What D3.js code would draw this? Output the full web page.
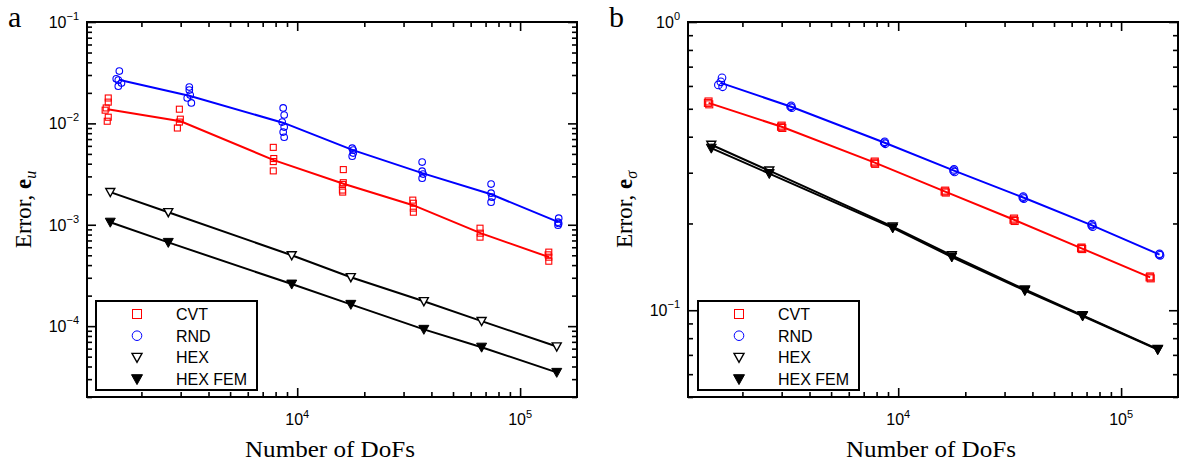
<!DOCTYPE html>
<html>
<head>
<meta charset="utf-8">
<script src="https://cdn.jsdelivr.net/npm/d3@7"></script>
<style>
  html, body { margin: 0; padding: 0; background: #fff; }
  svg { display: block; }
</style>
</head>
<body>
<svg id="chart" width="1183" height="465"></svg>
<script>
// ---------------- DATA ----------------
const seriesNames = ["CVT", "RND", "HEX", "HEX FEM"];

// mean DoFs per refinement level
const dofsCVT = [1410, 3000, 7850, 16250, 33100, 66500, 135000];
const dofsRND = [1600, 3310, 8700, 17800, 36400, 74100, 148800];
const dofsHEX = [1450, 2640, 9450, 17400, 37000, 67200, 146000];

// panel a: displacement error e_u (mean lines)
const cvtU = [0.0138, 0.0105, 0.00434, 0.00252, 0.00156, 0.000826, 0.000479];
const rndU = [0.0268, 0.0186, 0.0101, 0.00545, 0.00323, 0.0020, 0.00106];
const hexU = [0.0021, 0.00133, 0.00050, 0.000304, 0.000176, 0.000112, 0.000063];
const hexFemU = [0.00106, 0.00067, 0.00026, 0.000164, 0.000093, 0.000062, 0.000035];

// panel a: individual samples [DoFs, error]
const cvtUSamples = [
  [1420, 0.0178], [1420, 0.0162], [1390, 0.0142], [1375, 0.0135], [1420, 0.0115], [1405, 0.0105],
  [2960, 0.0138], [2990, 0.0110], [2960, 0.0103], [2900, 0.0090],
  [7810, 0.0058], [7850, 0.0045], [7810, 0.0042], [7810, 0.0034],
  [16100, 0.0035], [16100, 0.0026], [15950, 0.0025], [15950, 0.0022], [16000, 0.0021],
  [33000, 0.00175], [33200, 0.00163], [33200, 0.00146], [33200, 0.00133],
  [66100, 0.000925], [66300, 0.000826], [66100, 0.000755],
  [134500, 0.000537], [133600, 0.000505], [134500, 0.000479], [134500, 0.000437]
];
const rndUSamples = [
  [1592, 0.0328], [1542, 0.0275], [1575, 0.0268], [1628, 0.0250], [1575, 0.0233],
  [3280, 0.0228], [3280, 0.0213], [3311, 0.0190], [3210, 0.0178], [3350, 0.0159],
  [8650, 0.0142], [8740, 0.0121], [8560, 0.0103], [8740, 0.0092], [8650, 0.0082], [8740, 0.0073],
  [17650, 0.0057], [17830, 0.00545], [17830, 0.0051], [17650, 0.00475],
  [36350, 0.00415], [36350, 0.00338], [36700, 0.00316], [36350, 0.00288],
  [74100, 0.00252], [74100, 0.00205], [74800, 0.00187], [74100, 0.00167],
  [149000, 0.00116], [148000, 0.00106], [149000, 0.00103], [148000, 0.00099]
];

// panel b: stress error e_sigma (mean lines)
const cvtS = [0.524, 0.433, 0.325, 0.258, 0.206, 0.164, 0.130];
const rndS = [0.615, 0.508, 0.381, 0.305, 0.246, 0.197, 0.156];
const hexS = [0.375, 0.305, 0.195, 0.155, 0.118, 0.096, 0.0733];
const hexFemS = [0.365, 0.298, 0.193, 0.153, 0.117, 0.0955, 0.0730];

// panel b: individual samples [DoFs, error]
const cvtSSamples = [
  [1410, 0.530], [1400, 0.524], [1420, 0.518],
  [3000, 0.437], [2980, 0.433], [3020, 0.429],
  [7850, 0.328], [7820, 0.325], [7880, 0.322],
  [16250, 0.260], [16150, 0.258], [16350, 0.256],
  [33100, 0.208], [32900, 0.206], [33300, 0.204],
  [66500, 0.165], [66100, 0.164], [66900, 0.163],
  [135000, 0.131], [134200, 0.130], [135800, 0.129]
];
const rndSSamples = [
  [1620, 0.640], [1600, 0.620], [1560, 0.605], [1630, 0.596],
  [3310, 0.512], [3290, 0.508], [3330, 0.504],
  [8700, 0.384], [8650, 0.381], [8750, 0.378],
  [17800, 0.308], [17700, 0.305], [17900, 0.302],
  [36400, 0.248], [36200, 0.246], [36600, 0.244],
  [74100, 0.199], [73700, 0.197], [74500, 0.195],
  [148800, 0.157], [148000, 0.156], [149600, 0.155]
];

// axis ticks
const xDomain = [1140, 180000];
const xMajor = [1e4, 1e5];
const xMajorExp = ["4", "5"];
const yDomainA = [2e-5, 0.1];
const yMajorA = [1e-4, 1e-3, 1e-2, 1e-1];
const yMajorExpA = ["\u22124", "\u22123", "\u22122", "\u22121"];
const yDomainB = [0.05, 1];
const yMajorB = [0.1, 1];
const yMajorExpB = ["\u22121", "0"];

// ---------------- DRAW ----------------
const svg = d3.select("#chart");
const RED = "#ff0000", BLUE = "#0000ff", BLACK = "#000000";
const sansFont = "'Liberation Sans', Arial, Helvetica, sans-serif";
const serifFont = "'Liberation Serif', 'Times New Roman', serif";

function minorTicks(domain) {
  const out = [];
  const lo = Math.floor(Math.log10(domain[0])), hi = Math.ceil(Math.log10(domain[1]));
  for (let e = lo; e <= hi; e++) {
    for (let m = 2; m <= 9; m++) {
      const v = m * Math.pow(10, e);
      if (v >= domain[0] * 0.999 && v <= domain[1] * 1.001) out.push(v);
    }
  }
  return out;
}

function drawPanel(o) {
  const g = svg.append("g");
  const x = d3.scaleLog().domain(xDomain).range([o.left, o.right]);
  const y = d3.scaleLog().domain(o.yDomain).range([o.bottom, o.top]);

  // axes ticks (inward on all four sides)
  const xMinor = minorTicks(xDomain), yMinor = minorTicks(o.yDomain);
  const mk = (axisFn, scale, vals, size) =>
    axisFn(scale).tickValues(vals).tickSizeInner(size).tickSizeOuter(0).tickFormat("");
  const addAxis = (axis, tx, ty) => {
    const a = g.append("g").attr("transform", `translate(${tx},${ty})`).call(axis);
    a.select(".domain").remove();
    a.selectAll("line").attr("stroke", BLACK).attr("stroke-width", 1.6);
  };
  addAxis(mk(d3.axisBottom, x, xMajor, -9), 0, o.bottom);
  addAxis(mk(d3.axisBottom, x, xMinor, -5), 0, o.bottom);
  addAxis(mk(d3.axisTop, x, xMajor, -9), 0, o.top);
  addAxis(mk(d3.axisTop, x, xMinor, -5), 0, o.top);
  addAxis(mk(d3.axisLeft, y, o.yMajor, -9), o.left, 0);
  addAxis(mk(d3.axisLeft, y, yMinor, -5), o.left, 0);
  addAxis(mk(d3.axisRight, y, o.yMajor, -9), o.right, 0);
  addAxis(mk(d3.axisRight, y, yMinor, -5), o.right, 0);

  // frame
  g.append("rect").attr("x", o.left).attr("y", o.top)
    .attr("width", o.right - o.left).attr("height", o.bottom - o.top)
    .attr("fill", "none").attr("stroke", BLACK).attr("stroke-width", 2);

  // tick labels
  xMajor.forEach((v, i) => {
    const t = g.append("text").attr("x", x(v)).attr("y", o.bottom + 28)
      .attr("text-anchor", "middle").attr("font-family", sansFont).attr("font-size", 16);
    t.append("tspan").text("10");
    t.append("tspan").attr("dy", -7).attr("font-size", 11).text(xMajorExp[i]);
  });
  o.yMajor.forEach((v, i) => {
    const t = g.append("text").attr("x", o.left - 8).attr("y", y(v) + 6)
      .attr("text-anchor", "end").attr("font-family", sansFont).attr("font-size", 16);
    t.append("tspan").text("10");
    t.append("tspan").attr("dy", -8).attr("font-size", 11).text(o.yMajorExp[i]);
  });

  // axis titles
  g.append("text").attr("x", (o.left + o.right) / 2 - 2).attr("y", o.bottom + 60)
    .attr("text-anchor", "middle").attr("font-family", serifFont).attr("font-size", 23.5)
    .attr("textLength", 170).attr("lengthAdjust", "spacingAndGlyphs")
    .text("Number of DoFs");
  const yt = g.append("text")
    .attr("transform", `translate(${o.left - 56},${(o.top + o.bottom) / 2})rotate(-90)`)
    .attr("text-anchor", "middle").attr("font-family", serifFont).attr("font-size", 23);
  yt.append("tspan").text("Error, ");
  yt.append("tspan").attr("font-weight", "bold").text("e");
  yt.append("tspan").attr("font-style", "italic").attr("font-size", 16).attr("dy", 5).text(o.sub);

  // panel letter
  g.append("text").attr("x", o.left - 79).attr("y", 27)
    .attr("font-family", serifFont).attr("font-size", 30).text(o.letter);

  const line = d3.line().x(d => x(d[0])).y(d => y(d[1]));
  const zip = (xs, ys) => xs.map((v, i) => [v, ys[i]]);
  const clip = "clip-" + o.letter;
  svg.append("clipPath").attr("id", clip).append("rect")
    .attr("x", o.left).attr("y", o.top).attr("width", o.right - o.left).attr("height", o.bottom - o.top);
  const pg = g.append("g").attr("clip-path", `url(#${clip})`);

  // lines
  const lines = [
    [zip(dofsHEX, o.hex), BLACK],
    [zip(dofsHEX, o.hexFem), BLACK],
    [zip(dofsCVT, o.cvt), RED],
    [zip(dofsRND, o.rnd), BLUE]
  ];
  lines.forEach(([d, c]) => {
    pg.append("path").datum(d).attr("d", line).attr("fill", "none")
      .attr("stroke", c).attr("stroke-width", 2);
  });

  const ms = o.markerSize;
  // samples
  pg.selectAll(null).data(o.cvtSamples).enter().append("rect")
    .attr("x", d => x(d[0]) - ms / 2).attr("y", d => y(d[1]) - ms / 2)
    .attr("width", ms).attr("height", ms)
    .attr("fill", "none").attr("stroke", RED).attr("stroke-width", 1.1);
  pg.selectAll(null).data(o.rndSamples).enter().append("circle")
    .attr("cx", d => x(d[0])).attr("cy", d => y(d[1])).attr("r", ms / 2 + 0.3)
    .attr("fill", "none").attr("stroke", BLUE).attr("stroke-width", 1.1);

  const tri = (cx, cy, s) => `M${cx - s / 2},${cy - s * 0.4}L${cx + s / 2},${cy - s * 0.4}L${cx},${cy + s * 0.5}Z`;
  pg.selectAll(null).data(zip(dofsHEX, o.hexFem)).enter().append("path")
    .attr("d", d => tri(x(d[0]), y(d[1]), 10)).attr("fill", BLACK).attr("stroke", BLACK).attr("stroke-width", 1);
  pg.selectAll(null).data(zip(dofsHEX, o.hex)).enter().append("path")
    .attr("d", d => tri(x(d[0]), y(d[1]), 9)).attr("fill", o.hexFill).attr("stroke", BLACK).attr("stroke-width", 1.4);

  // legend
  const lx = o.left + o.legendDx, ly = 301, lw = 161, lh = 89;
  const lg = g.append("g");
  lg.append("rect").attr("x", lx).attr("y", ly).attr("width", lw).attr("height", lh)
    .attr("fill", "#fff").attr("stroke", BLACK).attr("stroke-width", 2);
  const mx = lx + 41, tx = lx + 80;
  seriesNames.forEach((name, i) => {
    const cy = ly + 13 + i * 21.7;
    if (i === 0) lg.append("rect").attr("x", mx - 4.5).attr("y", cy - 4.5).attr("width", 9).attr("height", 9)
      .attr("fill", "none").attr("stroke", RED).attr("stroke-width", 1);
    if (i === 1) lg.append("circle").attr("cx", mx).attr("cy", cy).attr("r", 4.8)
      .attr("fill", "none").attr("stroke", BLUE).attr("stroke-width", 1);
    if (i === 2) lg.append("path").attr("d", tri(mx, cy, 10)).attr("fill", "none").attr("stroke", BLACK).attr("stroke-width", 1.4);
    if (i === 3) lg.append("path").attr("d", tri(mx, cy, 11)).attr("fill", BLACK).attr("stroke", BLACK);
    lg.append("text").attr("x", tx).attr("y", cy + 6).attr("font-family", sansFont).attr("font-size", 16)
      .text(name);
  });
}

drawPanel({
  letter: "a", sub: "u",
  left: 87, right: 577, top: 22, bottom: 397,
  yDomain: yDomainA, yMajor: yMajorA, yMajorExp: yMajorExpA,
  cvt: cvtU, rnd: rndU, hex: hexU, hexFem: hexFemU,
  cvtSamples: cvtUSamples, rndSamples: rndUSamples,
  markerSize: 6, hexFill: "#fff", legendDx: 9
});
drawPanel({
  letter: "b", sub: "\u03c3",
  left: 688, right: 1178, top: 22, bottom: 397,
  yDomain: yDomainB, yMajor: yMajorB, yMajorExp: yMajorExpB,
  cvt: cvtS, rnd: rndS, hex: hexS, hexFem: hexFemS,
  cvtSamples: cvtSSamples, rndSamples: rndSSamples,
  markerSize: 7, hexFill: "none", legendDx: 10
});
</script>
</body>
</html>
